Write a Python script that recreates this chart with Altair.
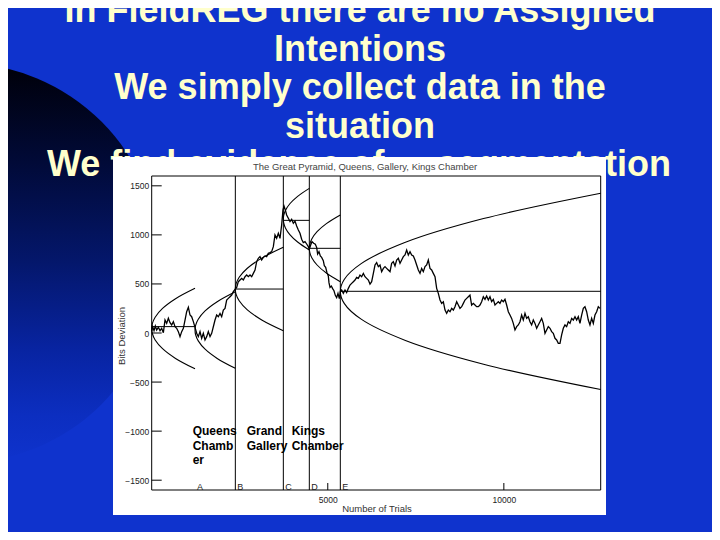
import altair as alt
import pandas as pd

# ------------------------------------------------------------------ data
slide_lines = [
    "In FieldREG there are no Assigned",
    "Intentions",
    "We simply collect data in the",
    "situation",
]
slide_last_left = "We find evidence of"
slide_last_right = "segmentation"

plot_title = "The Great Pyramid, Queens, Gallery, Kings Chamber"
x_title = "Number of Trials"
y_title = "Bits Deviation"

x_tick_values = [5000, 10000]
y_tick_values = [-1500, -1000, -500, 0, 500, 1000, 1500]

# cumulative deviation (bits) vs number of trials
walk_trials = [
    0, 28, 66, 103, 141, 189, 236, 283, 331, 378, 425, 473, 520, 567, 615, 662, 709, 757, 804, 851,
    899, 946, 993, 1041, 1088, 1135, 1183, 1230,
    1277, 1324, 1372, 1419, 1466, 1514, 1561, 1608, 1656, 1703, 1750, 1798, 1845, 1892, 1940, 1987,
    2034, 2082, 2129, 2176, 2224, 2271, 2318, 2366,
    2413, 2460, 2508, 2555, 2602, 2650, 2697, 2744, 2792, 2839, 2886, 2934, 2980, 3028, 3075, 3122,
    3170, 3217, 3264, 3312, 3359, 3406, 3454, 3501, 3548, 3596, 3643, 3690, 3728,
    3757, 3794, 3832, 3880, 3927, 3974, 4022, 4069, 4116, 4164, 4211, 4258, 4305, 4353, 4400, 4447, 4476,
    4514, 4552, 4599, 4646, 4684, 4712, 4750, 4788, 4826, 4873, 4902, 4940, 4977, 5015, 5034, 5063,
    5101, 5138, 5176, 5214, 5252, 5290, 5328, 5356,
    5394, 5442, 5489, 5536, 5584, 5631, 5678, 5726, 5773, 5820,
    5868, 5915, 5962, 6010, 6057, 6104, 6152, 6199, 6246, 6294,
    6341, 6388, 6436, 6483, 6530, 6578, 6625, 6672, 6719, 6767,
    6814, 6861, 6909, 6956, 7003, 7051, 7098, 7145, 7193, 7240,
    7287, 7335, 7382, 7429, 7477, 7524, 7571, 7619, 7666, 7713,
    7761, 7808, 7855, 7903, 7950, 7997, 8045, 8092, 8139, 8187,
    8234, 8281, 8329, 8376, 8423, 8471, 8518, 8565, 8612, 8660,
    8707, 8754, 8802, 8849, 8896, 8944, 8991, 9038,
    9085, 9133, 9180, 9227, 9275, 9322, 9369, 9417, 9464, 9511,
    9559, 9606, 9653, 9701, 9748, 9795, 9843, 9890, 9937, 9985,
    10032, 10079, 10127, 10174, 10221, 10268, 10316, 10363, 10410, 10458,
    10505, 10552, 10600, 10647, 10694, 10742, 10789, 10836, 10884, 10931,
    10978, 11026, 11073, 11120, 11168, 11215, 11262, 11310, 11357, 11404,
    11452, 11499, 11546, 11594, 11641, 11688, 11736, 11783, 11830, 11878,
    11925, 11972, 12020, 12067, 12114, 12161, 12209, 12256, 12303, 12351,
    12398, 12445, 12493, 12540, 12587, 12635, 12682, 12729,
]
walk_dev = [
    20, 64, 24, 71, 31, 58, 24, 48, 3, 132, 98, 150, 105, 82, 116, 64, 48, 14, -37, 14,
    48, 132, 217, 262, 183, 166, 116, 58,
    -3, -37, 14, -54, -3, -71, -37, 14, -37, -3, 64, 132, 183, 166, 200, 166,
    234, 251, 336, 353, 370, 387, 421, 445,
    465, 523, 540, 557, 540, 574, 591, 574, 591, 574, 608, 642, 727, 761, 778, 744,
    771, 785, 778, 812, 819, 829, 880, 999, 965, 1016, 965, 1101, 1254,
    1294, 1254, 1203, 1169, 1135, 1158, 1118, 1141, 1090, 1050, 1016, 955, 921, 931, 907, 880, 853,
    897, 931, 914, 904, 873, 805, 829, 785, 771, 737, 686, 669, 615, 581, 513, 465,
    479, 452, 431, 384, 360, 404, 350, 420,
    438, 404, 438, 411, 455, 489, 506, 523, 540, 567,
    557, 591, 574, 608, 574, 557, 540, 499, 523, 608,
    693, 717, 676, 693, 625, 659, 676, 659, 642, 625,
    710, 727, 683, 744, 761, 710, 744, 778, 795, 846,
    795, 829, 795, 785, 744, 693, 642, 608, 659, 625,
    676, 693, 744, 659, 642, 608, 574, 455, 404, 336,
    302, 319, 234, 200, 234, 217, 251, 234, 268, 319,
    285, 251, 268, 302, 336, 353, 370, 387,
    285, 302, 285, 268, 268, 285, 319, 370, 343, 377,
    336, 370, 319, 343, 285, 302, 319, 302, 336, 319,
    343, 285, 217, 183, 149, 98, 31, 65, 82, 115,
    183, 132, 200, 149, 166, 115, 82, 132, 98, 48,
    82, 115, 149, 98, -4, 31, 65, 48, 14, -4,
    -54, -71, -105, -105, -20, 48, 82, 65, 115, 98,
    149, 132, 166, 132, 166, 98, 183, 251, 268, 217,
    132, 82, 149, 98, 183, 217, 268, 251,
]

# envelopes per segment: upper end -> vertex -> lower end
env_names = ["S1", "S2", "S3", "S4", "S5", "S6"]
env_trials = [
    [1230, 677, 308, 98, 18, 0, 18, 98, 308, 677, 1230],
    [2375, 1860, 1516, 1322, 1247, 1230, 1247, 1322, 1516, 1860, 2375],
    [3738, 3125, 2716, 2484, 2395, 2375, 2395, 2484, 2716, 3125, 3738],
    [4476, 4144, 3923, 3797, 3749, 3738, 3749, 3797, 3923, 4144, 4476],
    [5356, 4960, 4696, 4546, 4489, 4476, 4489, 4546, 4696, 4960, 5356],
    [12750, 9423, 7205, 5948, 5467, 5356, 5467, 5948, 7205, 9423, 12750],
]
env_dev = [
    [455, 349, 250, 161, 95, 45, -5, -71, -160, -259, -365],
    [420, 319, 225, 140, 78, 30, -18, -80, -165, -259, -360],
    [873, 763, 660, 568, 500, 448, 396, 328, 235, 133, 23],
    [1474, 1393, 1317, 1249, 1198, 1160, 1122, 1071, 1003, 927, 846],
    [1203, 1115, 1033, 959, 904, 863, 822, 767, 693, 611, 523],
    [1424, 1166, 924, 707, 546, 424, 302, 141, -76, -318, -576],
]

# horizontal reference levels of the segments
level_start = [0, 2375, 3738, 4476, 5356]
level_end = [1230, 3738, 4476, 5356, 12750]
level_dev = [65, 448, 1148, 863, 425]

# segment boundaries (vertical lines) and letters
boundary_trials = [2375, 3738, 4476, 5356]
letter_names = ["A", "B", "C", "D", "E"]
letter_trials = [1230, 2375, 3738, 4476, 5356]
letter_dev = [-1566, -1566, -1566, -1566, -1566]

# location annotations
ann_text = ["Queens", "Chamb", "er", "Grand", "Gallery", "Kings", "Chamber"]
ann_trials = [1164, 1164, 1164, 2697, 2697, 3975, 3975]
ann_dev = [-995, -1148, -1294, -995, -1148, -995, -1148]

# ------------------------------------------------------------------ frames
walk_df = pd.DataFrame({"trials": walk_trials, "dev": walk_dev})
walk_df["i"] = range(len(walk_df))

rows = []
for name, ts, vs in zip(env_names, env_trials, env_dev):
    for i, (t, v) in enumerate(zip(ts, vs)):
        rows.append({"seg": name, "i": i, "trials": t, "dev": v})
env_df = pd.DataFrame(rows)

level_df = pd.DataFrame({"start": level_start, "end": level_end, "dev": level_dev})
bound_df = pd.DataFrame({"trials": boundary_trials})
letter_df = pd.DataFrame({"name": letter_names, "trials": letter_trials, "dev": letter_dev})
ann_df = pd.DataFrame({"text": ann_text, "trials": ann_trials, "dev": ann_dev})
xtick_df = pd.DataFrame({"trials": x_tick_values})
ytick_df = pd.DataFrame({"dev": y_tick_values})
one = pd.DataFrame({"k": [0]})

# ------------------------------------------------------------------ layout
W, H = 449, 314           # plot frame
OX, OY = 151.7, 176.0     # frame origin on the slide (window pixels)
BG = "#0F33CD"
TXT = "#FFFFCC"
SLIDE_FONT = "Liberation Sans"
PLOT_FONT = "Liberation Sans"

xs = alt.Scale(domain=[0, 12750], nice=False, zero=False)
ys = alt.Scale(domain=[-1600, 1600], nice=False, zero=False)
x_axis = alt.Axis(values=x_tick_values, title=None, domain=False, grid=False, ticks=True,
                  tickSize=0, labelPadding=5, labelFontSize=8.5, labelColor="#222",
                  labelFont=PLOT_FONT, format="d", zindex=1, labelFlush=False)
y_axis = alt.Axis(values=y_tick_values, title=None, domain=False, grid=False, ticks=True,
                  tickSize=0, labelPadding=3, labelFontSize=8.5, labelColor="#222",
                  labelFont=PLOT_FONT, format="d", zindex=1, labelFlush=False)


def X(f="trials"):
    return alt.X(f"{f}:Q", scale=xs, axis=x_axis)


def Y(f="dev"):
    return alt.Y(f"{f}:Q", scale=ys, axis=y_axis)


def px(x):
    return alt.value(x - OX)


def py(y):
    return alt.value(y - OY)


layers = []

# dark gradient circle
grad = alt.LinearGradient(
    gradient="linear",
    stops=[alt.GradientStop(color="#000008", offset=0),
           alt.GradientStop(color="#010a38", offset=0.25),
           alt.GradientStop(color="#04176c", offset=0.5),
           alt.GradientStop(color="#0824a2", offset=0.72),
           alt.GradientStop(color="#0c2ec0", offset=0.88),
           alt.GradientStop(color=BG, offset=1)],
    x1=0, x2=0, y1=0, y2=1)
layers.append(alt.Chart(one).mark_arc(radius=200, theta=0, theta2=6.2832, fill=grad,
                                      strokeWidth=0).encode(x=px(-40), y=py(263)))

# slide title lines
for k, line in enumerate(slide_lines):
    layers.append(alt.Chart(one).mark_text(
        text=line, font=SLIDE_FONT, fontSize=36, fontWeight="bold", color=TXT,
        align="center", baseline="alphabetic").encode(x=px(360), y=py(22 + 38.5 * k)))
layers.append(alt.Chart(one).mark_text(
    text=slide_last_left, font=SLIDE_FONT, fontSize=36, fontWeight="bold", color=TXT,
    align="left", baseline="alphabetic").encode(x=px(47), y=py(176)))
layers.append(alt.Chart(one).mark_text(
    text=slide_last_right, font=SLIDE_FONT, fontSize=36, fontWeight="bold", color=TXT,
    align="right", baseline="alphabetic").encode(x=px(671), y=py(176)))

# white panel
layers.append(alt.Chart(one).mark_rect(color="white").encode(
    x=px(113), x2=px(606), y=py(157), y2=py(515)))

# frame
layers.append(alt.Chart(one).mark_rect(fillOpacity=0, stroke="black", strokeWidth=1).encode(
    x=alt.value(0), x2=alt.value(W), y=alt.value(0), y2=alt.value(H)))

# vertical segment boundaries
layers.append(alt.Chart(bound_df).mark_rule(color="black", strokeWidth=1).encode(x=X()))

# horizontal levels
layers.append(alt.Chart(level_df).mark_rule(color="black", strokeWidth=1).encode(
    x=X("start"), x2="end:Q", y=Y()))

# envelopes
layers.append(alt.Chart(env_df).mark_line(color="black", strokeWidth=1.1,
                                          interpolate="catmull-rom").encode(
    x=X(), y=Y(), detail="seg:N", order="i:Q"))

# random walk
layers.append(alt.Chart(walk_df).mark_line(color="black", strokeWidth=1.3).encode(
    x=X(), y=Y(), order="i:Q"))

# inward ticks
layers.append(alt.Chart(ytick_df).mark_rule(color="black", strokeWidth=1).encode(
    y=Y(), x=alt.value(0), x2=alt.value(10)))
layers.append(alt.Chart(xtick_df).mark_rule(color="black", strokeWidth=1).encode(
    x=X(), y=alt.value(H), y2=alt.value(H - 7)))

# segment letters
layers.append(alt.Chart(letter_df).mark_text(
    font=PLOT_FONT, fontSize=9, color="#222", align="left", baseline="middle", dx=2).encode(
    x=X(), y=Y(), text="name:N"))

# location annotations
layers.append(alt.Chart(ann_df).mark_text(
    font=SLIDE_FONT, fontSize=12, fontWeight="bold", color="black", align="left",
    baseline="middle").encode(x=X(), y=Y(), text="text:N"))

# plot title and axis titles
layers.append(alt.Chart(one).mark_text(
    text=plot_title, font=PLOT_FONT, fontSize=9.5, color="#444", align="center",
    baseline="middle").encode(x=px(365), y=py(166.5)))
layers.append(alt.Chart(one).mark_text(
    text=x_title, font=PLOT_FONT, fontSize=9.5, color="#333", align="center",
    baseline="middle").encode(x=px(377), y=py(508.5)))
layers.append(alt.Chart(one).mark_text(
    text=y_title, font=PLOT_FONT, fontSize=9.5, color="#333", align="center",
    baseline="middle", angle=270).encode(x=px(121.7), y=py(336)))

# whole chart covers window pixels 8..712 x 8..532 (page margin is 8px)
chart = alt.layer(*layers).properties(
    width=W, height=H,
    autosize=alt.AutoSizeParams(type="none"),
    padding={"left": OX - 8, "top": OY - 8, "right": 712 - (OX + W), "bottom": 532 - (OY + H)},
    background=BG,
).configure_view(stroke=None)

chart.save("out.html", embed_options={"renderer": "svg", "actions": False})
